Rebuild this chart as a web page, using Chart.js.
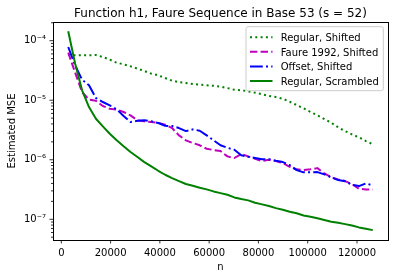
<!DOCTYPE html>
<html>
<head>
<meta charset="utf-8">
<script src="https://cdn.jsdelivr.net/npm/chart.js@4.4.1/dist/chart.umd.min.js"></script>
<style>
  html, body { margin: 0; padding: 0; background: #fff; }
  #wrap { width: 394px; height: 278px; }
</style>
</head>
<body>
<div id="wrap"><canvas id="chart"></canvas></div>
<script>
// sample sizes (multiples of 53^2)
const nValues = [2809, 5618, 8427, 11236, 14045, 16854, 19663, 22472, 25281, 28090,
  30899, 33708, 36517, 39326, 42135, 44944, 47753, 50562, 53371, 56180,
  58989, 61798, 64607, 67416, 70225, 73034, 75843, 78652, 81461, 84270,
  87079, 89888, 92697, 95506, 98315, 101124, 103933, 106742, 109551, 112360,
  115169, 117978, 120787, 123596, 126405];

// estimated MSE per method
const regularShifted = [5.82e-5, 5.68e-5, 5.68e-5, 5.68e-5, 5.75e-5, 5.32e-5, 4.80e-5, 4.27e-5, 4.01e-5, 3.71e-5,
  3.39e-5, 3.10e-5, 2.79e-5, 2.62e-5, 2.36e-5, 2.13e-5, 2.02e-5, 1.95e-5, 1.87e-5, 1.82e-5,
  1.78e-5, 1.75e-5, 1.69e-5, 1.60e-5, 1.50e-5, 1.47e-5, 1.41e-5, 1.34e-5, 1.26e-5, 1.18e-5,
  1.13e-5, 1.06e-5, 9.44e-6, 8.30e-6, 7.31e-6, 6.34e-6, 5.57e-6, 4.83e-6, 4.19e-6, 3.51e-6,
  3.03e-6, 2.67e-6, 2.38e-6, 2.06e-6, 1.82e-6];
const faure1992Shifted = [6.30e-5, 2.90e-5, 1.37e-5, 1.02e-5, 9.82e-6, 8.00e-6, 7.19e-6, 6.93e-6, 6.34e-6, 5.57e-6,
  4.59e-6, 4.42e-6, 4.30e-6, 4.19e-6, 3.87e-6, 3.41e-6, 2.57e-6, 2.12e-6, 1.91e-6, 1.75e-6,
  1.53e-6, 1.46e-6, 1.40e-6, 1.14e-6, 1.07e-6, 1.25e-6, 1.14e-6, 1.04e-6, 9.51e-7, 1.00e-6,
  9.51e-7, 8.79e-7, 7.62e-7, 6.90e-7, 6.71e-7, 6.90e-7, 7.24e-7, 5.90e-7, 5.06e-7, 4.68e-7,
  4.39e-7, 3.91e-7, 3.26e-7, 3.18e-7, 3.18e-7];
const offsetShifted = [7.83e-5, 3.85e-5, 2.21e-5, 1.78e-5, 1.09e-5, 9.33e-6, 8.20e-6, 7.03e-6, 5.42e-6, 4.30e-6,
  4.52e-6, 4.59e-6, 4.42e-6, 4.14e-6, 3.72e-6, 3.68e-6, 3.41e-6, 3.03e-6, 3.24e-6, 3.07e-6,
  2.57e-6, 2.12e-6, 1.75e-6, 1.59e-6, 1.47e-6, 1.19e-6, 1.12e-6, 1.07e-6, 1.02e-6, 1.02e-6,
  9.62e-7, 9.14e-7, 8.15e-7, 6.71e-7, 6.14e-7, 6.14e-7, 6.21e-7, 5.69e-7, 5.06e-7, 4.56e-7,
  4.34e-7, 3.80e-7, 3.61e-7, 4.01e-7, 3.71e-7];
const regularScrambled = [1.44e-4, 4.11e-5, 1.47e-5, 7.67e-6, 4.89e-6, 3.63e-6, 2.74e-6, 2.12e-6, 1.68e-6, 1.35e-6,
  1.11e-6, 9.14e-7, 7.76e-7, 6.53e-7, 5.60e-7, 4.92e-7, 4.39e-7, 3.91e-7, 3.66e-7, 3.39e-7,
  3.18e-7, 2.94e-7, 2.75e-7, 2.58e-7, 2.33e-7, 2.19e-7, 2.08e-7, 1.90e-7, 1.78e-7, 1.67e-7,
  1.54e-7, 1.45e-7, 1.34e-7, 1.26e-7, 1.16e-7, 1.10e-7, 1.04e-7, 9.70e-8, 9.08e-8, 8.75e-8,
  8.30e-8, 7.89e-8, 7.31e-8, 6.92e-8, 6.58e-8];

const seriesLabels = ['Regular, Shifted', 'Faure 1992, Shifted', 'Offset, Shifted', 'Regular, Scrambled'];
const xTicks = [0, 20000, 40000, 60000, 80000, 100000, 120000];
const yMajorTicks = [1e-7, 1e-6, 1e-5, 1e-4];
const yMajorLabels = ['10⁻⁷', '10⁻⁶', '10⁻⁵', '10⁻⁴'];

const FONT = 'DejaVu Sans';

// minor log ticks 2..9 x 10^k inside the axis range
const yMin = 4.49e-8, yMax = 2.06e-4;
const yMinorTicks = [];
for (let e = -8; e <= -4; e++) {
    for (let m = 2; m <= 9; m++) {
        const v = m * Math.pow(10, e);
        if (v >= yMin && v <= yMax) yMinorTicks.push(v);
    }
}

function toPoints(arr) {
    return nValues.map((n, i) => ({ x: n, y: arr[i] }));
}

const styles = [
    { color: '#008000', dash: [2, 3.3] },
    { color: '#bf00bf', dash: [7.4, 3.2] },
    { color: '#0000ff', dash: [12.8, 3.2, 2, 3.2] },
    { color: '#008000', dash: [] }
];
const allSeries = [regularShifted, faure1992Shifted, offsetShifted, regularScrambled];

const datasets = allSeries.map((arr, i) => ({
    label: seriesLabels[i],
    data: toPoints(arr),
    borderColor: styles[i].color,
    borderDash: styles[i].dash,
    borderWidth: 2,
    borderJoinStyle: 'round',
    pointRadius: 0,
    tension: 0,
    fill: false,
    order: 3 - i // later series drawn on top, like matplotlib
}));

// frame, tick marks, title and legend drawn the matplotlib way
const decorPlugin = {
    id: 'decor',
    afterDraw(chart) {
        const ctx = chart.ctx;
        const a = chart.chartArea;
        const xs = chart.scales.x, ys = chart.scales.y;
        ctx.save();

        // tick marks
        ctx.strokeStyle = '#000';
        ctx.lineWidth = 0.8;
        ctx.beginPath();
        xTicks.forEach(v => {
            const px = xs.getPixelForValue(v);
            ctx.moveTo(px, a.bottom);
            ctx.lineTo(px, a.bottom + 3.5);
        });
        yMajorTicks.forEach(v => {
            const py = ys.getPixelForValue(v);
            ctx.moveTo(a.left, py);
            ctx.lineTo(a.left - 3.5, py);
        });
        yMinorTicks.forEach(v => {
            const py = ys.getPixelForValue(v);
            ctx.moveTo(a.left, py);
            ctx.lineTo(a.left - 2, py);
        });
        ctx.stroke();

        // axes frame
        ctx.lineWidth = 1;
        ctx.strokeRect(a.left + 0.5, a.top + 0.5, a.right - a.left, a.bottom - a.top);

        // title
        ctx.fillStyle = '#000';
        ctx.font = '12px "' + FONT + '"';
        ctx.textAlign = 'center';
        ctx.textBaseline = 'alphabetic';
        ctx.fillText('Function h1, Faure Sequence in Base 53 (s = 52)', (a.left + a.right) / 2, 17.3);

        // legend
        const bx = 246, by = 26.7, bw = 137.3, bh = 64;
        ctx.beginPath();
        ctx.roundRect(bx, by, bw, bh, 2);
        ctx.fillStyle = 'rgba(255,255,255,0.8)';
        ctx.fill();
        ctx.strokeStyle = '#cccccc';
        ctx.lineWidth = 1;
        ctx.stroke();
        ctx.font = '10px "' + FONT + '"';
        ctx.textAlign = 'left';
        seriesLabels.forEach((label, i) => {
            const base = 41.3 + i * 14.57;
            ctx.beginPath();
            ctx.strokeStyle = styles[i].color;
            ctx.lineWidth = 2;
            ctx.setLineDash(styles[i].dash);
            ctx.moveTo(250, base - 4);
            ctx.lineTo(272.5, base - 4);
            ctx.stroke();
            ctx.setLineDash([]);
            ctx.fillStyle = '#000';
            ctx.fillText(label, 280.7, base);
        });
        ctx.restore();
    }
};

new Chart(document.getElementById('chart'), {
    type: 'line',
    data: { datasets: datasets },
    options: {
        responsive: true,
        maintainAspectRatio: false,
        animation: false,
        layout: { padding: { top: 22, right: 6, left: 0, bottom: 0 } },
        plugins: {
            legend: { display: false },
            tooltip: { enabled: false },
            title: { display: false }
        },
        scales: {
            x: {
                type: 'linear',
                min: -3371,
                max: 132585,
                afterBuildTicks: scale => { scale.ticks = xTicks.map(v => ({ value: v })); },
                afterFit: scale => { scale.height = 38; },
                grid: { display: false, drawTicks: false },
                border: { display: false },
                ticks: {
                    autoSkip: false,
                    maxRotation: 0,
                    padding: 7,
                    color: '#000',
                    font: { family: FONT, size: 10 },
                    callback: v => String(v)
                },
                title: {
                    display: true,
                    text: 'n',
                    color: '#000',
                    font: { family: FONT, size: 10 },
                    padding: { top: 0, bottom: 5 }
                }
            },
            y: {
                type: 'logarithmic',
                min: yMin,
                max: yMax,
                afterBuildTicks: scale => { scale.ticks = yMajorTicks.map(v => ({ value: v })); },
                afterFit: scale => { scale.width = 53; },
                grid: { display: false, drawTicks: false },
                border: { display: false },
                ticks: {
                    autoSkip: false,
                    padding: 7,
                    color: '#000',
                    font: { family: FONT, size: 10 },
                    callback: v => {
                        const i = yMajorTicks.findIndex(t => Math.abs(t - v) / t < 1e-6);
                        return i >= 0 ? yMajorLabels[i] : '';
                    }
                },
                title: {
                    display: true,
                    text: 'Estimated MSE',
                    color: '#000',
                    font: { family: FONT, size: 10 },
                    padding: { top: 6, bottom: 0 }
                }
            }
        }
    },
    plugins: [decorPlugin]
});
</script>
</body>
</html>
